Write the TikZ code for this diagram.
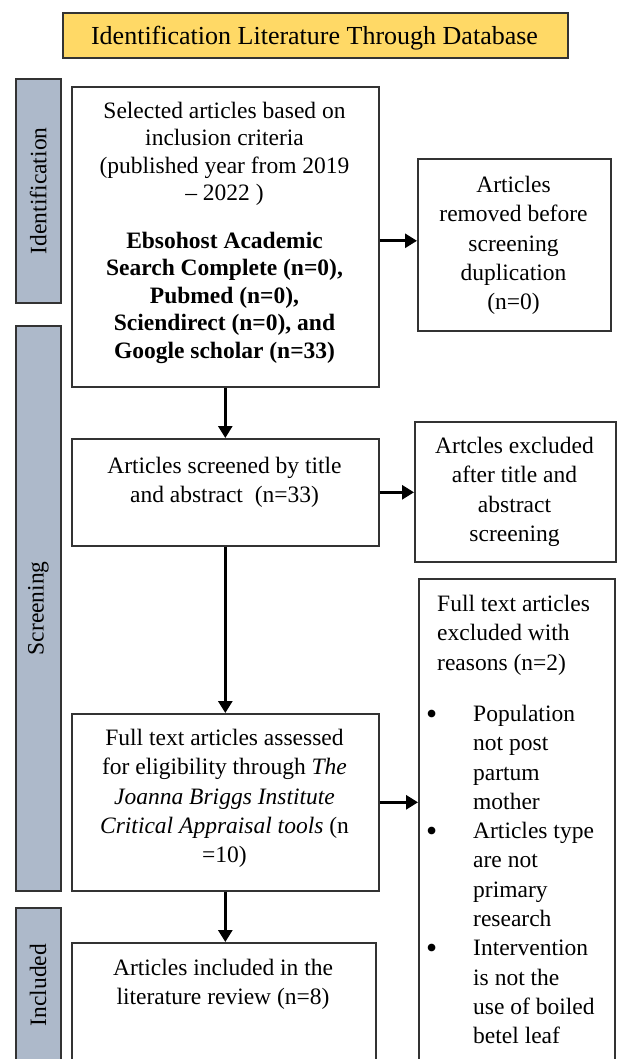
\documentclass[tikz,border=0pt]{standalone}
\usepackage{fontspec}
\setmainfont{Liberation Serif}
\usetikzlibrary{arrows.meta}
\definecolor{hdr}{HTML}{FFD966}
\definecolor{barfill}{HTML}{ADB9CA}
\definecolor{edge}{HTML}{333333}
\newcommand{\bul}{\makebox[46pt][l]{\hspace*{-1pt}\raisebox{-3pt}{\scalebox{1.35}{\textbullet}}}}
\newcommand{\ind}{\hspace*{46pt}}
\begin{document}
\begin{tikzpicture}[x=1pt,y=-1pt,
 box/.style={draw=edge, line width=1.6pt, fill=white, anchor=north west, inner sep=0pt},
 sidebar/.style={draw=edge, line width=1.6pt, fill=barfill, anchor=north west, inner sep=0pt, minimum width=45pt},
 txt/.style={inner sep=0pt, align=center, font=\fontsize{23.5}{29.3}\selectfont},
 sidetxt/.style={inner sep=0pt, rotate=90, font=\fontsize{23.5}{28}\selectfont},
 arr/.style={line width=2.8pt, -{Triangle[length=12pt,width=14pt]}}
]
\useasboundingbox (0,0) rectangle (616,1059);
% header
\node[draw=edge, line width=1.6pt, fill=hdr, anchor=north west, inner sep=0pt,
  minimum width=505pt, minimum height=45pt] (hdr) at (62,12) {};
\node[inner sep=0pt, font=\fontsize{26}{30}\selectfont] (hdrt) at (314.5,38) {Identification Literature Through Database};
% side bars
\node[sidebar, minimum height=224pt] (sid) at (15,78) {};
\node[sidetxt] (sidt) at (sid.center) {Identification};
\node[sidebar, minimum height=565pt] (sscr) at (15,325) {};
\node[sidetxt] (sscrt) at (sscr.center) {Screening};
\node[sidebar, minimum height=170pt] (sinc) at (15,907) {};
\node[sidetxt] (sinct) at (38,985) {Included};
% boxes
\node[box, minimum width=307pt, minimum height=300pt] (b1) at (71,86) {};
\node[box, minimum width=193pt, minimum height=172pt] (b2) at (417,158) {};
\node[box, minimum width=307pt, minimum height=107pt] (b3) at (71,438) {};
\node[box, minimum width=201pt, minimum height=140pt] (b4) at (414,421) {};
\node[box, minimum width=307pt, minimum height=177pt] (b5) at (71,713) {};
\node[box, minimum width=196pt, minimum height=500pt] (b6) at (418,578) {};
\node[box, minimum width=304pt, minimum height=140pt] (b7) at (71,942) {};
% texts
\node[txt, anchor=north, font=\fontsize{23.5}{27.5}\selectfont] (t1) at (224.5,101.5)
 {Selected articles based on\\ inclusion criteria\\ (published year from 2019\\ -- 2022 )\\[20pt]
  \textbf{Ebsohost Academic}\\ \textbf{Search Complete (n=0),}\\ \textbf{Pubmed (n=0),}\\
  \textbf{Sciendirect (n=0), and}\\ \textbf{Google scholar (n=33)}};
\node[txt, anchor=north] (t2) at (513.5,176)
 {Articles\\ removed before\\ screening\\ duplication\\ (n=0)};
\node[txt, anchor=north] (t3) at (224.5,457)
 {Articles screened by title\\ and abstract\ \ (n=33)};
\node[txt, anchor=north] (t4) at (514.5,437)
 {Artcles excluded\\ after title and\\ abstract\\ screening};
\node[txt, anchor=north] (t5) at (224.5,729)
 {Full text articles assessed\\ for eligibility through \textit{The}\\ \textit{Joanna Briggs Institute}\\
  \textit{Critical Appraisal tools} (n\\ =10)};
\node[txt, align=left, anchor=north west] (t6) at (427,595)
 {\hspace*{10pt}Full text articles\\ \hspace*{10pt}excluded with\\ \hspace*{10pt}reasons (n=2)\\[22pt]
  \bul Population\\ \ind not post\\ \ind partum\\ \ind mother\\
  \bul Articles type\\ \ind are not\\ \ind primary\\ \ind research\\
  \bul Intervention\\ \ind is not the\\ \ind use of boiled\\ \ind betel leaf};
\node[txt, anchor=north] (t7) at (223,959)
 {Articles included in the\\ literature review (n=8)};
% arrows
\draw[arr] ([yshift=-4pt]b1.east) -- ([yshift=-4pt]b1.east -| b2.west);
\draw[arr] (b1.south) -- (b3.north);
\draw[arr] (b3.east) -- (b3.east -| b4.west);
\draw[arr] (b3.south) -- (b5.north);
\draw[arr] (b5.east) -- (b5.east -| b6.west);
\draw[arr] (b5.south) -- (b5.south |- b7.north);
\end{tikzpicture}
\end{document}
